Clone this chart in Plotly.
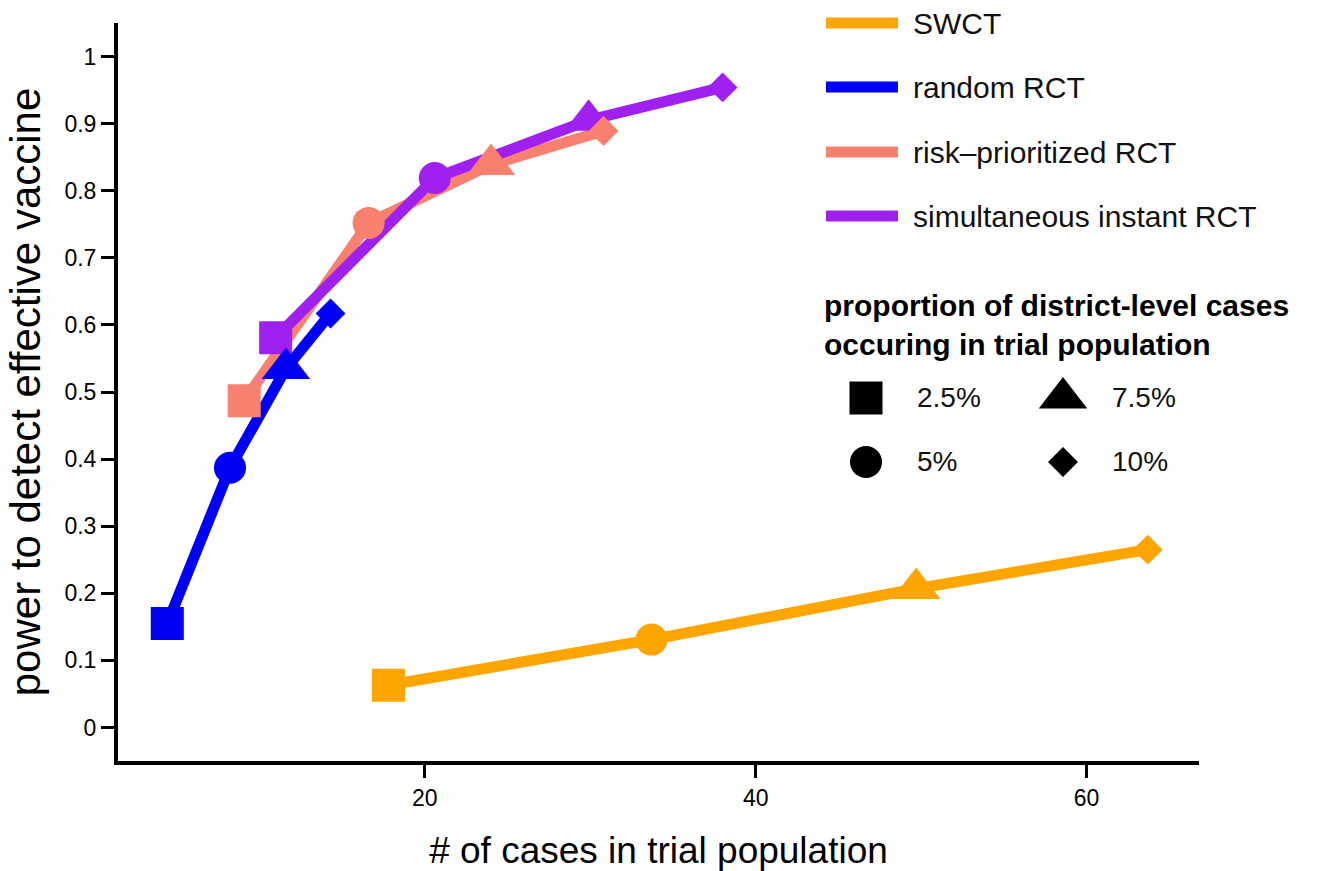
import plotly.graph_objects as go

# ---------------- data ----------------
proportions = ["2.5%", "5%", "7.5%", "10%"]
symbols = ["square", "circle", "triangle-up", "diamond"]
symbol_sizes = [33, 32, 42, 23]

series_names = ["SWCT", "random RCT", "risk\u2013prioritized RCT", "simultaneous instant RCT"]
series_colors = ["#FFA500", "#0000F5", "#F8806F", "#A020F0"]

swct_x = [17.8, 33.7, 49.7, 63.7]
swct_y = [0.063, 0.131, 0.207, 0.265]
random_x = [4.43, 8.22, 11.6, 14.3]
random_y = [0.155, 0.387, 0.535, 0.617]
risk_x = [9.08, 16.6, 24.0, 30.8]
risk_y = [0.487, 0.752, 0.839, 0.889]
simult_x = [10.98, 20.6, 29.9, 38.0]
simult_y = [0.581, 0.819, 0.905, 0.954]

x_tickvals = [20, 40, 60]
x_ticktext = ["20", "40", "60"]
y_tickvals = [0, 0.1, 0.2, 0.3, 0.4, 0.5, 0.6, 0.7, 0.8, 0.9, 1]
y_ticktext = ["0", "0.1", "0.2", "0.3", "0.4", "0.5", "0.6", "0.7", "0.8", "0.9", "1"]

legend_title = "proportion of district-level cases<br>occuring in trial population"
x_title = "# of cases in trial population"
y_title = "power to detect effective vaccine"

FONT = "Liberation Sans, Arial, Helvetica, sans-serif"

xs = [swct_x, random_x, risk_x, simult_x]
ys = [swct_y, random_y, risk_y, simult_y]

fig = go.Figure()

# lines first (draw order: SWCT, risk, random, simultaneous)
line_order = [0, 2, 1, 3]
for i in line_order:
    fig.add_trace(go.Scatter(x=xs[i], y=ys[i], mode="lines",
                             line=dict(color=series_colors[i], width=11),
                             name=series_names[i], showlegend=False,
                             hoverinfo="skip"))
# points on top
point_order = [0, 3, 2, 1]
for i in point_order:
    fig.add_trace(go.Scatter(x=xs[i], y=ys[i], mode="markers",
                             marker=dict(color=series_colors[i], symbol=symbols,
                                         size=symbol_sizes, opacity=1,
                                         line=dict(width=0)),
                             text=proportions, name=series_names[i],
                             showlegend=False))

# ---------------- manual legend (layout only) ----------------
L, R, T, B = 118, 1199, 23, 761
W, H = R - L, B - T
def px(xp):
    return (xp - L) / W
def py(yp):
    return (B - yp) / H

shapes = []
annotations = []
leg_rows = [23, 87, 152, 216]
for name, col, yr in zip(series_names, series_colors, leg_rows):
    shapes.append(dict(type="line", xref="paper", yref="paper",
                       x0=px(826), x1=px(898), y0=py(yr), y1=py(yr),
                       line=dict(color=col, width=11)))
    annotations.append(dict(text=name, xref="paper", yref="paper",
                            x=px(911), y=py(yr), xanchor="left", yanchor="middle",
                            showarrow=False, font=dict(family=FONT, size=30, color="#111")))

annotations.append(dict(text="<b>" + legend_title + "</b>", xref="paper", yref="paper",
                        x=px(822), y=py(325), xanchor="left", yanchor="middle",
                        align="left", showarrow=False,
                        font=dict(family=FONT, size=30, color="#000")))

# shape-legend symbol positions
sym_pos = [(866, 398), (866, 462), (1063, 398), (1063, 462)]
txt_pos = [(915, 398), (915, 462), (1110, 398), (1110, 462)]

def sym_path(sym, s):
    r = s / 2
    if sym == "square":
        return f"M{-r},{-r} L{r},{-r} L{r},{r} L{-r},{r} Z"
    if sym == "triangle-up":
        rt = r * 2 / 3 ** 0.5
        return f"M{-rt},{-r/2} L{rt},{-r/2} L0,{r} Z"
    if sym == "diamond":
        rd = r * 1.3
        return f"M{rd},0 L0,{rd} L{-rd},0 L0,{-rd} Z"
    return None

for sym, s, (sx, sy), (tx, ty), lab in zip(symbols, symbol_sizes, sym_pos, txt_pos, proportions):
    if sym == "circle":
        shapes.append(dict(type="circle", xref="paper", yref="paper",
                           xsizemode="pixel", ysizemode="pixel",
                           xanchor=px(sx), yanchor=py(sy),
                           x0=-s / 2, x1=s / 2, y0=-s / 2, y1=s / 2,
                           fillcolor="black", line=dict(width=0)))
    else:
        shapes.append(dict(type="path", xref="paper", yref="paper",
                           xsizemode="pixel", ysizemode="pixel",
                           xanchor=px(sx), yanchor=py(sy),
                           path=sym_path(sym, s),
                           fillcolor="black", line=dict(width=0)))
    annotations.append(dict(text=lab, xref="paper", yref="paper",
                            x=px(tx), y=py(ty), xanchor="left", yanchor="middle",
                            showarrow=False, font=dict(family=FONT, size=28, color="#111")))

fig.update_layout(
    width=1318, height=871,
    margin=dict(l=L, r=1318 - R, t=T, b=871 - B),
    paper_bgcolor="white", plot_bgcolor="white",
    font=dict(family=FONT, color="black"),
    shapes=shapes, annotations=annotations,
    showlegend=False,
)
fig.update_xaxes(range=[1.45, 66.8], tickvals=x_tickvals, ticktext=x_ticktext,
                 showgrid=False, zeroline=False, showline=True, linecolor="black",
                 linewidth=4, ticks="outside", ticklen=13, tickwidth=3, tickcolor="black",
                 tickfont=dict(size=23, family=FONT), automargin=False,
                 title=dict(text=x_title, font=dict(size=37, family=FONT), standoff=30))
fig.update_yaxes(range=[-0.05, 1.05], tickvals=y_tickvals, ticktext=y_ticktext,
                 showgrid=False, zeroline=False, showline=True, linecolor="black",
                 linewidth=4, ticks="outside", ticklen=13, tickwidth=3, tickcolor="black",
                 tickfont=dict(size=23, family=FONT), automargin=False,
                 title=dict(text=y_title, font=dict(size=42, family=FONT), standoff=12))

fig.write_html("out.html")
